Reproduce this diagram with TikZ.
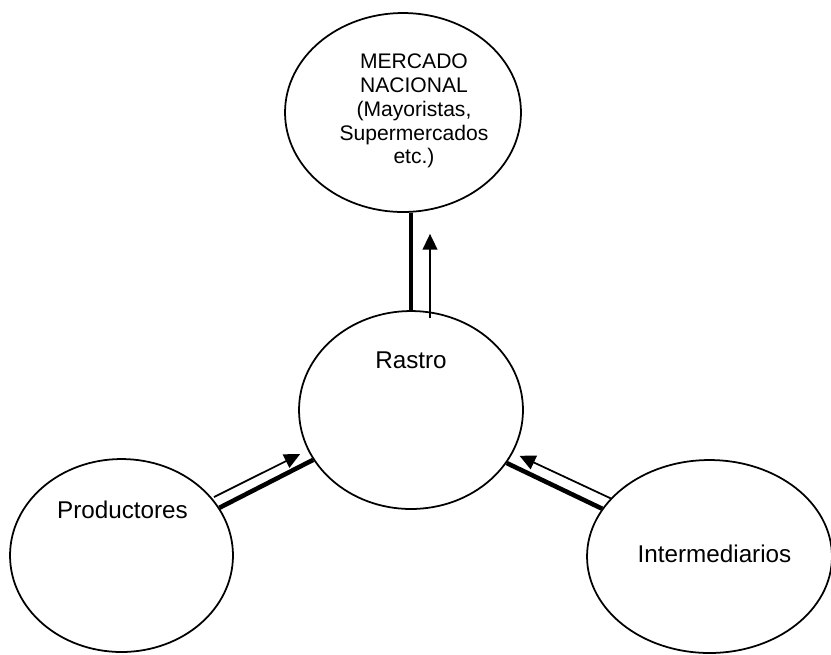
\documentclass[tikz,border=0pt]{standalone}
\usepackage{fontspec}
\setmainfont{Liberation Sans}
\usepackage{tikz}
\usetikzlibrary{arrows.meta, positioning, calc, shapes}

\begin{document}
\begin{tikzpicture}[x=0.02cm, y=-0.02cm,
    oval/.style 2 args={ellipse, draw, line width=1pt, inner sep=0pt, minimum width=#1, minimum height=#2},
    txt/.style={font=\fontsize{13.8}{16}\selectfont, anchor=base},
    thickln/.style={line width=2.6pt},
    thinarr/.style={line width=1pt, -{Triangle[length=9pt,width=8.4pt]}}]
  \useasboundingbox (0,0) rectangle (831,654);
  % Ovals
  \node[oval={4.72cm}{3.98cm}] (mercado) at (403,112.5) {};
  \node[oval={4.48cm}{3.96cm}] (rastro) at (411,410) {};
  \node[oval={4.46cm}{3.86cm}] (prod) at (121.5,555.5) {};
  \node[oval={4.9cm}{3.86cm}] (inter) at (709.5,556.5) {};
  % Texts
  \node[font=\fontsize{12}{13.6}\selectfont, align=center] (mercadotxt) at (414,111)
    {MERCADO\\NACIONAL\\(Mayoristas,\\Supermercados\\etc.)};
  \node[txt] (rastrotxt) at (411,368) {Rastro};
  \node[txt] (prodtxt) at (122.5,518) {Productores};
  \node[txt] (intertxt) at (714.5,562) {Intermediarios};
  % Rastro -> Mercado
  \draw[thickln] (rastro.north) -- (rastro.north |- mercado.south);
  \draw[thinarr] ([shift={(19,8)}]rastro.north) -- ($(rastro.north |- mercado.south)+(19,21)$);
  % Productores -> Rastro
  \draw[thickln] (prod.26) -- (rastro.207.5);
  \draw[thinarr, shorten >=0.18cm] ($(prod.26)!0.24cm!90:(rastro.207.5)$) -- ($(rastro.207.5)!0.22cm!-90:(prod.26)$);
  % Intermediarios -> Rastro
  \draw[thickln] (inter.156.4) -- (rastro.331.6);
  \draw[thinarr, shorten <=-0.07cm, shorten >=0.17cm] ($(inter.156.4)!0.26cm!-90:(rastro.331.6)$) -- ($(rastro.331.6)!0.24cm!90:(inter.156.4)$);
\end{tikzpicture}
\end{document}
